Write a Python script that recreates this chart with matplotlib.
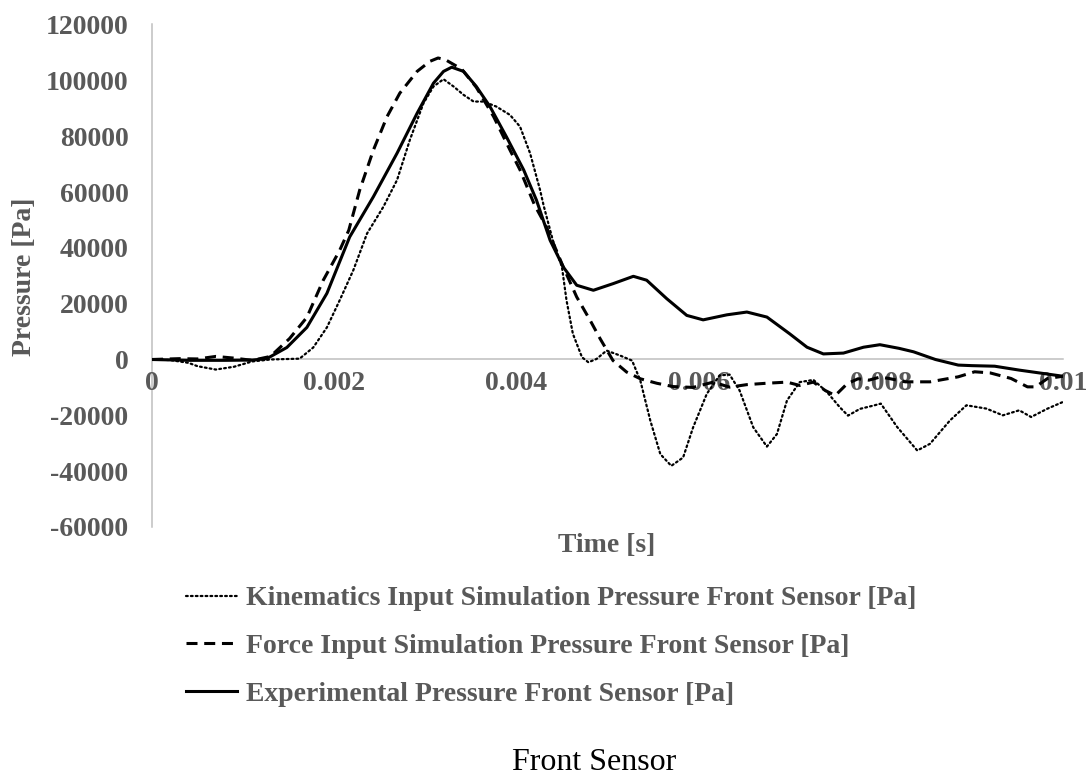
import matplotlib
matplotlib.use("Agg")
import matplotlib.pyplot as plt

# ---- data ----
exp_t = [0, 0.0004, 0.0008, 0.0011, 0.00126, 0.00148, 0.0017, 0.00192, 0.00217, 0.00243,
         0.00269, 0.00291, 0.00309, 0.0032, 0.00329, 0.00342, 0.00356, 0.00371, 0.00389,
         0.00408, 0.00422, 0.00437, 0.004515, 0.004662, 0.004845, 0.005064, 0.005284,
         0.00543, 0.00565, 0.00587, 0.00605, 0.00631, 0.00653, 0.00675, 0.0070, 0.00719,
         0.00737, 0.00759, 0.00781, 0.00799, 0.0082, 0.00836, 0.0086, 0.00885, 0.009,
         0.00925, 0.00952, 0.01]
exp_p = [0, -300, -300, -200, 300, 4300, 11500, 23700, 43900, 58300,
         73900, 88200, 99000, 103200, 104700, 103200, 97800, 90600, 79800,
         67900, 57100, 42700, 33100, 26600, 24800, 27200, 29800,
         28400, 21800, 15800, 14200, 16000, 17000, 15200, 9200, 4400,
         2000, 2300, 4400, 5300, 4000, 2750, 0, -2000, -2200,
         -2400, -3800, -6000]

force_t = [0, 0.0003, 0.0005, 0.0007, 0.0009, 0.0011, 0.0013, 0.00151, 0.0017, 0.00188,
           0.00206, 0.00216, 0.00228, 0.00243, 0.00258, 0.00272, 0.00291, 0.00305, 0.00314,
           0.00322, 0.0034, 0.00356, 0.00375, 0.00393, 0.00404, 0.0042, 0.00433, 0.004515,
           0.004662, 0.00481, 0.00492, 0.00506, 0.00521, 0.00536, 0.00554, 0.00572, 0.00594,
           0.00616, 0.00634, 0.00653, 0.00675, 0.00697, 0.00711, 0.00726, 0.00739, 0.0075,
           0.00763, 0.00775, 0.00787, 0.00799, 0.00809, 0.00827, 0.00854, 0.00885, 0.00903,
           0.0092, 0.00943, 0.00961, 0.0097, 0.00983, 0.01]
force_p = [0, 300, 200, 1100, 500, -300, 1100, 7500, 15100, 28400,
           39100, 46300, 60700, 75000, 87000, 95400, 103200, 106800, 108000,
           107400, 104000, 97500, 87000, 75000, 67900, 55300, 47500, 33100,
           22400, 14000, 7400, -360, -4500, -6900, -8500, -9700, -10000,
           -8100, -9900, -9000, -8500, -8100, -9300, -8100, -11100, -12900,
           -8700, -6900, -7400, -6300, -6800, -8000, -8000, -6200, -4400,
           -4800, -6800, -9800, -9800, -6800, -6000]

kin_t = [0, 0.0002, 0.0004, 0.0005, 0.0007, 0.0009, 0.0011, 0.0013, 0.00162, 0.00177,
         0.00192, 0.00206, 0.00221, 0.00236, 0.00254, 0.00269, 0.00283, 0.00298, 0.00309,
         0.0032, 0.00331, 0.00342, 0.00353, 0.00364, 0.00378, 0.00393, 0.00404, 0.00415,
         0.00426, 0.0043, 0.0044, 0.0045, 0.00455, 0.00462, 0.00472, 0.00479, 0.00488,
         0.00499, 0.00514, 0.00527, 0.00536, 0.00547, 0.00558, 0.0057, 0.00583, 0.00594,
         0.00609, 0.00623, 0.00634, 0.00645, 0.0066, 0.00675, 0.00686, 0.00697, 0.00711,
         0.00726, 0.00741, 0.00755, 0.00764, 0.00777, 0.00792, 0.008, 0.00818, 0.0084,
         0.00854, 0.00876, 0.00894, 0.00916, 0.00934, 0.00952, 0.00965, 0.00983, 0.01]
kin_p = [0, -200, -1200, -2400, -3600, -2600, -700, 0, 300, 4300,
         11500, 21200, 32000, 45100, 54700, 64300, 78600, 91800, 97800,
         100400, 97800, 94800, 92400, 92400, 90600, 87600, 83400, 73900,
         60700, 55000, 42700, 33100, 21200, 9200, 800, -1000, 200,
         3200, 1400, -400, -7500, -21900, -33900, -38100, -35100, -24300,
         -12300, -5700, -5400, -11100, -24300, -31200, -26700, -14700, -8100,
         -7300, -11700, -17100, -20100, -17700, -16500, -15800, -24200, -32600,
         -30200, -21800, -16400, -17600, -20000, -18200, -20600, -17600, -15200]

x_ticks = [0, 0.002, 0.004, 0.006, 0.008, 0.01]
x_tick_labels = ["0", "0.002", "0.004", "0.006", "0.008", "0.01"]
y_ticks = [-60000, -40000, -20000, 0, 20000, 40000, 60000, 80000, 100000, 120000]

labels = ["Kinematics Input Simulation Pressure Front Sensor [Pa]",
          "Force Input Simulation Pressure Front Sensor [Pa]",
          "Experimental Pressure Front Sensor [Pa]"]

# ---- style ----
SERIF = ["Liberation Serif", "DejaVu Serif"]
GRAY = "#595959"
AXC = "#BFBFBF"
W, H = 1089, 778

fig = plt.figure(figsize=(W / 100, H / 100), dpi=100)
ax = fig.add_axes([152 / W, 1 - 527 / H, (1063 - 152) / W, (527 - 24.5) / H])

l1, = ax.plot(kin_t, kin_p, color="black", lw=1.6, linestyle=(0, (0.8, 1.4)),
              dash_capstyle="round", solid_joinstyle="round")
l2, = ax.plot(force_t, force_p, color="black", lw=2.2, linestyle=(0, (3.6, 2.2)),
              solid_joinstyle="round", dash_joinstyle="round")
l3, = ax.plot(exp_t, exp_p, color="black", lw=2.2, solid_joinstyle="round")

ax.set_xlim(0, 0.01)
ax.set_ylim(-60000, 120000)
ax.set_xticks(x_ticks)
ax.set_xticklabels(x_tick_labels)
ax.set_yticks(y_ticks)
ax.set_yticklabels([str(v) for v in y_ticks])

for s in ["top", "right"]:
    ax.spines[s].set_visible(False)
ax.spines["left"].set_color(AXC)
ax.spines["left"].set_linewidth(1.1)
ax.spines["bottom"].set_color(AXC)
ax.spines["bottom"].set_linewidth(1.1)
ax.spines["bottom"].set_position(("data", 0))
ax.spines["left"].set_zorder(0)
ax.spines["bottom"].set_zorder(0)

ax.tick_params(axis="both", length=0, colors=GRAY)
ax.tick_params(axis="y", pad=17)
ax.tick_params(axis="x", pad=8)
for lab in ax.get_xticklabels() + ax.get_yticklabels():
    lab.set_fontfamily(SERIF)
    lab.set_fontweight("bold")
    lab.set_fontsize(20)
    lab.set_color(GRAY)

fig.text(25 / W, 1 - 277 / H, "Pressure [Pa]", rotation=90, ha="center", va="center",
         fontsize=20, fontweight="bold", color=GRAY, family=SERIF)
fig.text(607 / W, 1 - 546 / H, "Time [s]", ha="center", va="center",
         fontsize=20, fontweight="bold", color=GRAY, family=SERIF)
fig.text(594 / W, 1 - 763 / H, "Front Sensor", ha="center", va="center",
         fontsize=23, color="black", family=SERIF)

leg = fig.legend([l1, l2, l3], labels, loc="upper left",
                 bbox_to_anchor=(186 / W, 1 - 586 / H), frameon=False,
                 handlelength=1.85, handletextpad=0.3, labelspacing=0.8,
                 borderpad=0, borderaxespad=0,
                 prop={"family": SERIF, "weight": "bold", "size": 20})
for t in leg.get_texts():
    t.set_color(GRAY)

fig.savefig("out.png", dpi=100)
